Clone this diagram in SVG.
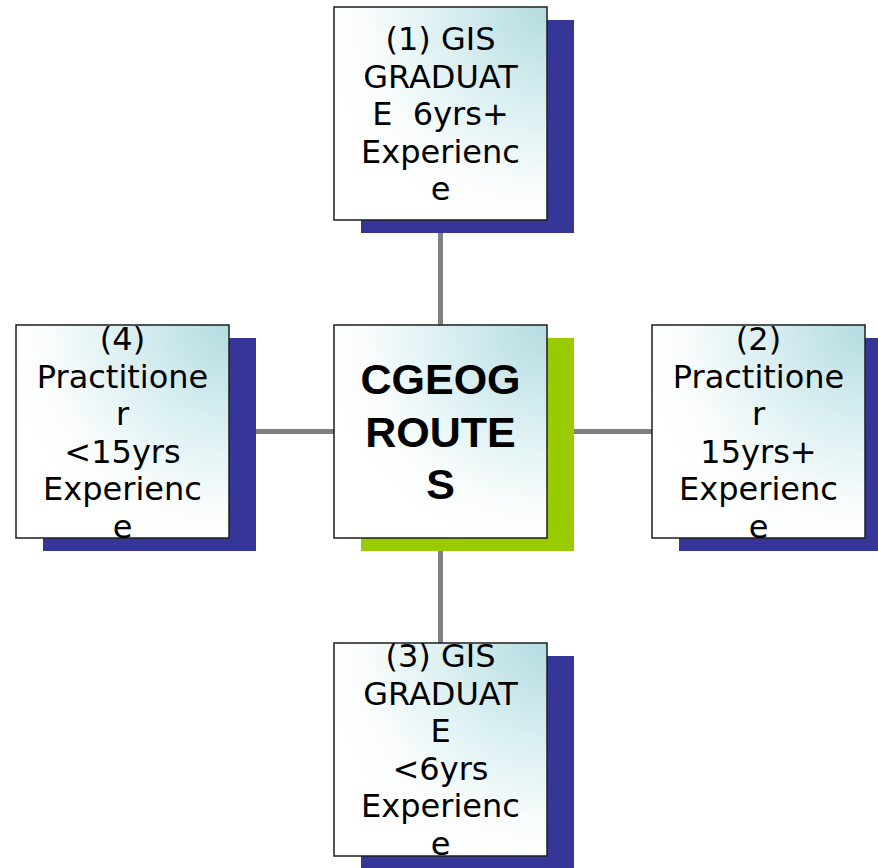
<svg xmlns="http://www.w3.org/2000/svg" width="878" height="868" viewBox="0 0 878 868">
<defs>
<radialGradient id="fill" cx="1" cy="0" r="1.1" fx="1" fy="0">
<stop offset="0" stop-color="#b4dbe0"/>
<stop offset="0.45" stop-color="#dcf0f2"/>
<stop offset="0.8" stop-color="#fbfdfd"/>
<stop offset="1" stop-color="#ffffff"/>
</radialGradient>
<style>
.box{fill:url(#fill);stroke:#1e1e1e;stroke-width:1.5}
.sh{fill:#363698}
.shg{fill:#99cc00}
.conn{stroke:#808080;stroke-width:5;fill:none}
.t{font-family:"DejaVu Sans",Verdana,sans-serif;font-size:32px;fill:#000;text-anchor:middle;white-space:pre}
.st{font-family:"DejaVu Sans",Verdana,sans-serif;font-size:32px;fill:#363698;text-anchor:middle}
.b{font-family:"Liberation Sans",Arial,sans-serif;font-size:43px;font-weight:bold;fill:#000;text-anchor:middle}
</style>
</defs>
<rect width="878" height="868" fill="#ffffff"/>
<g id="connectors">
<line class="conn" x1="440.5" y1="220" x2="440.5" y2="326"/>
<line class="conn" x1="440.5" y1="540" x2="440.5" y2="644"/>
<line class="conn" x1="240" y1="431.5" x2="335" y2="431.5"/>
<line class="conn" x1="546" y1="431.5" x2="653" y2="431.5"/>
</g>
<g id="node1">
<rect class="sh" x="361" y="20" width="213" height="213"/>
<rect class="box" x="334" y="7" width="213" height="213"/>
<text class="t" x="440.5" y="50">(1) GIS</text>
<text class="t" x="440.5" y="87.5">GRADUAT</text>
<text class="t" x="440.5" y="125">E  6yrs+</text>
<text class="t" x="440.5" y="162.5">Experienc</text>
<text class="t" x="440.5" y="200">e</text>
</g>
<g id="center">
<rect class="shg" x="361" y="338" width="213" height="213"/>
<rect class="box" x="334" y="325" width="213" height="213"/>
<text class="b" x="440.5" y="394">CGEOG</text>
<text class="b" x="440.5" y="447">ROUTE</text>
<text class="b" x="440.5" y="499">S</text>
</g>
<g id="node4">
<rect class="sh" x="43" y="338" width="213" height="213"/>
<text class="st" x="149.5" y="550.5">e</text>
<rect class="box" x="16" y="325" width="213" height="213"/>
<text class="t" x="122.5" y="350">(4)</text>
<text class="t" x="122.5" y="387.5">Practitione</text>
<text class="t" x="122.5" y="425">r</text>
<text class="t" x="122.5" y="462.5">&lt;15yrs</text>
<text class="t" x="122.5" y="500">Experienc</text>
<text class="t" x="122.5" y="537.5">e</text>
</g>
<g id="node2">
<rect class="sh" x="679" y="338" width="213" height="213"/>
<text class="st" x="785.5" y="550.5">e</text>
<rect class="box" x="652" y="325" width="213" height="213"/>
<text class="t" x="758.5" y="350">(2)</text>
<text class="t" x="758.5" y="387.5">Practitione</text>
<text class="t" x="758.5" y="425">r</text>
<text class="t" x="758.5" y="462.5">15yrs+</text>
<text class="t" x="758.5" y="500">Experienc</text>
<text class="t" x="758.5" y="537.5">e</text>
</g>
<g id="node3">
<rect class="sh" x="361" y="656" width="213" height="213"/>
<rect class="box" x="334" y="643" width="213" height="213"/>
<text class="t" x="440.5" y="667">(3) GIS</text>
<text class="t" x="440.5" y="704.5">GRADUAT</text>
<text class="t" x="440.5" y="742">E</text>
<text class="t" x="440.5" y="779.5">&lt;6yrs</text>
<text class="t" x="440.5" y="817">Experienc</text>
<text class="t" x="440.5" y="854.5">e</text>
</g>
</svg>
